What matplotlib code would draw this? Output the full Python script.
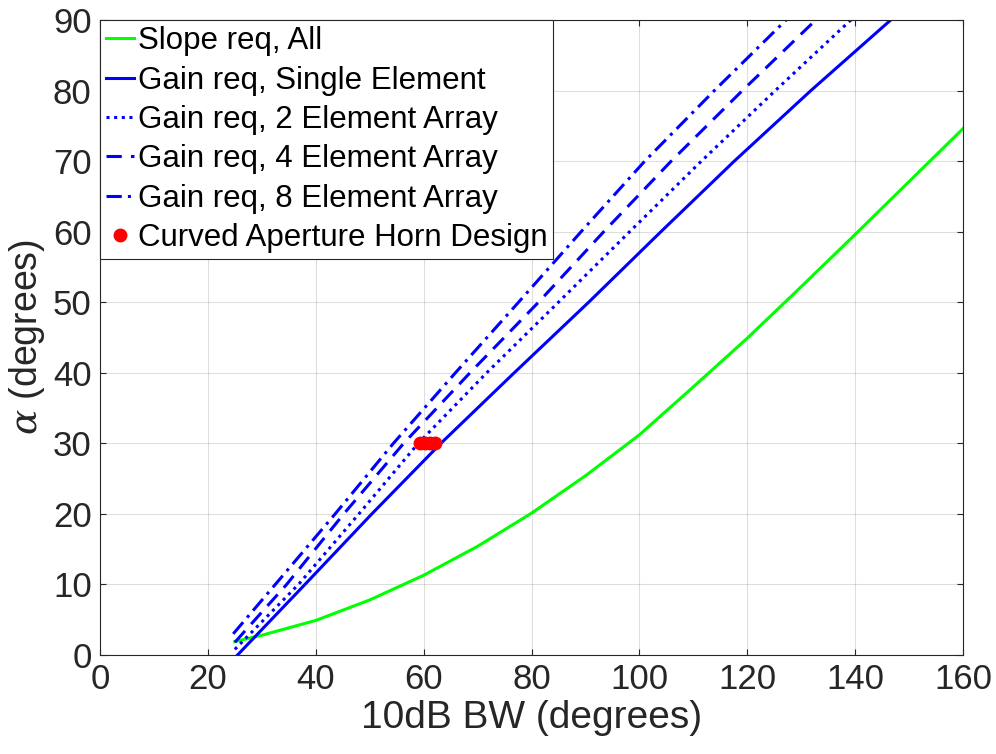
import matplotlib
matplotlib.use('Agg')
import matplotlib.pyplot as plt
import numpy as np

plt.rcParams['font.family'] = ['Liberation Sans', 'DejaVu Sans']
plt.rcParams['mathtext.fontset'] = 'dejavuserif'

# data
bw_slope = [25, 30, 40, 50, 60, 70, 80, 90, 100, 110, 120, 130, 140, 150, 160]
alpha_slope = [1.9, 2.8, 4.9, 7.8, 11.3, 15.4, 20.1, 25.4, 31.2, 38.0, 44.9, 52.2, 59.6, 67.1, 74.6]

bw_single = [25.5, 38.0, 50.4, 63.2, 76.8, 90.6, 104.0, 117.6, 131.8, 146.6]
alpha_single = [0, 10, 20, 30, 40, 50, 60, 70, 80, 90]

bw_2el = [25.0, 36.8, 48.0, 59.0, 71.7, 85.0, 98.2, 111.5, 125.2, 139.2]
alpha_2el = [0.8, 10, 20, 30, 40, 50, 60, 70, 80, 90]

bw_4el = [25.0, 34.6, 45.2, 56.3, 68.6, 81.3, 93.4, 105.9, 119.1, 132.7]
alpha_4el = [1.8, 10, 20, 30, 40, 50, 60, 70, 80, 90]

bw_8el = [24.7, 32.5, 43.6, 54.4, 65.9, 77.6, 89.2, 101.0, 113.9, 127.2]
alpha_8el = [3.0, 10, 20, 30, 40, 50, 60, 70, 80, 90]

bw_horn = [59.4, 60.3, 61.2, 62.2]
alpha_horn = [30, 30, 30, 30]

# figure
fig = plt.figure(figsize=(9.96, 7.54), dpi=100)
ax = fig.add_axes([100/996, 1-655/754, 863/996, 635/754])

ax.plot(bw_slope, alpha_slope, color=(0, 1, 0), lw=2.2, label='Slope req, All')
ax.plot(bw_single, alpha_single, color=(0, 0, 1), lw=2.2, ls='-', label='Gain req, Single Element')
ax.plot(bw_2el, alpha_2el, color=(0, 0, 1), lw=2.2, ls=(0, (1, 1.5)), label='Gain req, 2 Element Array')
ax.plot(bw_4el, alpha_4el, color=(0, 0, 1), lw=2.2, ls=(0, (5, 3)), label='Gain req, 4 Element Array')
ax.plot(bw_8el, alpha_8el, color=(0, 0, 1), lw=2.2, ls=(0, (5, 2, 1, 2)), label='Gain req, 8 Element Array')
ax.plot(bw_horn, alpha_horn, 'o', color=(1, 0, 0), ms=10, mec='none', label='Curved Aperture Horn Design')

ax.set_xlim(0, 160)
ax.set_ylim(0, 90)
ax.set_xticks(np.arange(0, 161, 20))
ax.set_yticks(np.arange(0, 91, 10))
ax.grid(True, color=(0.15, 0.15, 0.15), alpha=0.15, lw=0.8)
ax.tick_params(direction='in', length=4, width=0.8, labelsize=25, colors=(0.15, 0.15, 0.15),
               top=True, right=True, pad=6)
for s in ax.spines.values():
    s.set_color((0.15, 0.15, 0.15))
    s.set_linewidth(0.8)
ax.set_xlabel('10dB BW (degrees)', fontsize=28, color=(0.15, 0.15, 0.15), labelpad=3)
ax.set_ylabel(r'$\alpha$ (degrees)', fontsize=27, color=(0.15, 0.15, 0.15), labelpad=4)

leg = ax.legend(loc='upper left', bbox_to_anchor=(0, 1), borderaxespad=0, fontsize=22.5,
                handlelength=0.9, handletextpad=0.1, labelspacing=0.3, borderpad=0.2,
                fancybox=False, framealpha=1, edgecolor=(0.15, 0.15, 0.15))
leg.get_frame().set_linewidth(0.8)

fig.savefig('out.png', dpi=100)
